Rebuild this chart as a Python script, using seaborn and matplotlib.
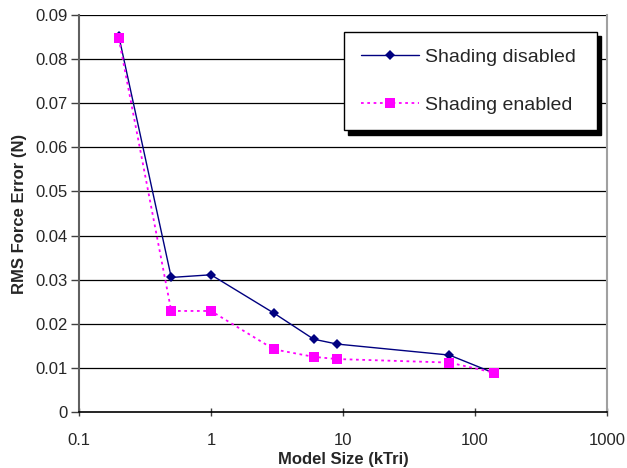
import pandas as pd
import matplotlib.pyplot as plt
import seaborn as sns

sns.set_style("white")
plt.rcParams['font.family'] = ['Liberation Sans', 'DejaVu Sans']

# Data
model_size = [0.2, 0.5, 1, 3, 6, 9, 64, 140]
err_disabled = [0.0853, 0.0305, 0.0311, 0.0224, 0.0165, 0.0154, 0.0129, 0.0088]
err_enabled = [0.0847, 0.0229, 0.0229, 0.0142, 0.0125, 0.0120, 0.0112, 0.0089]
series_names = ['Shading disabled', 'Shading enabled']

df = pd.DataFrame({
    'size': model_size * 2,
    'error': err_disabled + err_enabled,
    'series': [series_names[0]] * len(model_size) + [series_names[1]] * len(model_size),
})

fig = plt.figure(figsize=(6.27, 4.68), dpi=100)
ax = fig.add_axes([0.126, 0.1197, 0.842, 0.8483])

# horizontal grid lines
for yv in [0.01 * i for i in range(1, 10)]:
    ax.axhline(yv, color='black', lw=0.9, zorder=0)

sns.lineplot(data=df, x='size', y='error', hue='series', style='series',
             palette={series_names[0]: '#000080', series_names[1]: '#FF00FF'},
             markers={series_names[0]: 'D', series_names[1]: 's'},
             dashes={series_names[0]: '', series_names[1]: (1.5, 2.0)},
             markeredgewidth=0, ax=ax, legend=False, sort=False, zorder=3)
lines = ax.get_lines()[-2:]
lines[0].set_linewidth(1.0)
lines[0].set_markersize(5.5)
lines[1].set_linewidth(1.3)
lines[1].set_markersize(7.5)

ax.set_xscale('log')
ax.set_xlim(0.1, 1000)
ax.set_ylim(0, 0.09)
ax.set_yticks([0.01 * i for i in range(10)])
ax.set_yticklabels(['0'] + ['%.2f' % (0.01 * i) for i in range(1, 10)])
ax.set_xticks([0.1, 1, 10, 100, 1000])
ax.set_xticklabels(['0.1', '1', '10', '100', '1000'])
ax.minorticks_off()
ax.tick_params(axis='y', which='major', direction='out', length=6, width=1,
               labelsize=12, pad=2, left=True, color='#404040')
ax.tick_params(axis='x', which='major', direction='inout', length=6, width=1,
               labelsize=12, pad=12, bottom=True, color='#404040')

ax.spines['top'].set_visible(False)
ax.spines['left'].set_color('#606060')
ax.spines['left'].set_linewidth(1.5)
ax.spines['right'].set_color('#a0a0a0')
ax.spines['right'].set_linewidth(1.5)
ax.spines['bottom'].set_color('black')
ax.spines['bottom'].set_linewidth(1.2)

ax.set_xlabel('Model Size (kTri)', fontsize=12, fontweight='bold', labelpad=3)
ax.set_ylabel('RMS Force Error (N)', fontsize=12, fontweight='bold', labelpad=6)

handles = [
    plt.Line2D([], [], color='#000080', lw=1.0, marker='D', markersize=5,
               markeredgewidth=0, label=series_names[0]),
    plt.Line2D([], [], color='#FF00FF', lw=1.3, ls=(0, (1.5, 2.0)), marker='s',
               markersize=7, markeredgewidth=0, label=series_names[1]),
]
leg = ax.legend(handles=handles, loc='upper left',
                bbox_to_anchor=(0.502, 0.957, 0.479, 0.0), mode='expand',
                borderaxespad=0, fontsize=14, frameon=True, fancybox=False,
                framealpha=1, edgecolor='black', borderpad=0.85,
                labelspacing=1.55, handlelength=3.0, handletextpad=0.3,
                shadow={'color': 'black', 'alpha': 1, 'ox': 3, 'oy': -3})
leg.get_frame().set_linewidth(1.0)

fig.savefig('out.png', dpi=100)
